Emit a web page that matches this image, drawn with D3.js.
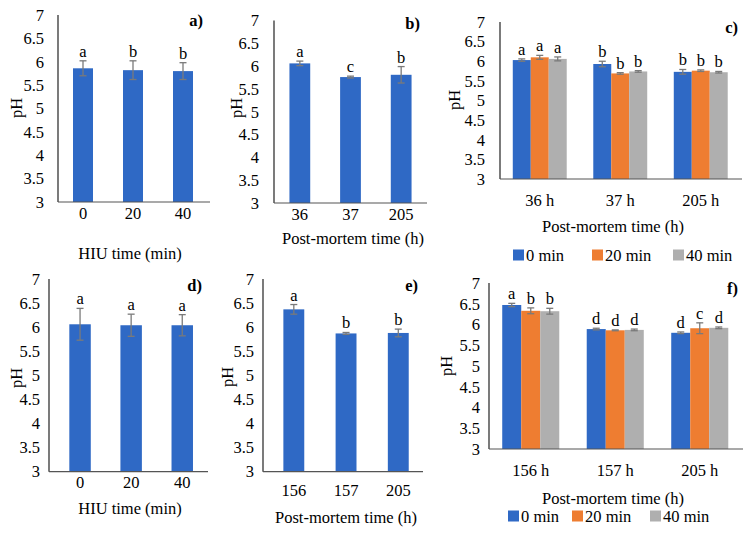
<!DOCTYPE html>
<html>
<head>
<meta charset="utf-8">
<script src="https://cdn.jsdelivr.net/npm/d3@7"></script>
<style>
  html, body { margin: 0; padding: 0; background: #fff; }
  svg { display: block; }
</style>
</head>
<body>
<svg id="chart" width="753" height="534" font-family="'Liberation Serif', 'Times New Roman', Times, 'DejaVu Serif', serif"></svg>
<script>
// ---------------- DATA ----------------
const yTicks = [3, 3.5, 4, 4.5, 5, 5.5, 6, 6.5, 7];
const seriesNames = ["0 min", "20 min", "40 min"];

// Panel a
const catsA = ["0", "20", "40"];
const valsA = [5.86, 5.82, 5.80];
const errsA = [0.16, 0.20, 0.18];
const lettersA = ["a", "b", "b"];

// Panel b
const catsB = ["36", "37", "205"];
const valsB = [6.06, 5.76, 5.81];
const errsB = [0.05, 0.02, 0.18];
const lettersB = ["a", "c", "b"];

// Panel c
const catsC = ["36 h", "37 h", "205 h"];
const valsC0 = [6.03, 5.93, 5.73];
const valsC20 = [6.10, 5.69, 5.76];
const valsC40 = [6.06, 5.74, 5.72];
const errsC0 = [0.03, 0.07, 0.06];
const errsC20 = [0.05, 0.02, 0.02];
const errsC40 = [0.05, 0.02, 0.02];
const lettersC0 = ["a", "b", "b"];
const lettersC20 = ["a", "b", "b"];
const lettersC40 = ["a", "b", "b"];

// Panel d
const catsD = ["0", "20", "40"];
const valsD = [6.06, 6.04, 6.04];
const errsD = [0.33, 0.23, 0.22];
const lettersD = ["a", "a", "a"];

// Panel e
const catsE = ["156", "157", "205"];
const valsE = [6.37, 5.87, 5.88];
const errsE = [0.10, 0.02, 0.08];
const lettersE = ["a", "b", "b"];

// Panel f
const catsF = ["156 h", "157 h", "205 h"];
const valsF0 = [6.47, 5.89, 5.80];
const valsF20 = [6.33, 5.86, 5.91];
const valsF40 = [6.32, 5.87, 5.92];
const errsF0 = [0.04, 0.02, 0.02];
const errsF20 = [0.07, 0.01, 0.13];
const errsF40 = [0.07, 0.02, 0.02];
const lettersF0 = ["a", "d", "d"];
const lettersF20 = ["b", "d", "c"];
const lettersF40 = ["b", "d", "d"];

// ---------------- STYLE ----------------
const colors = ["#2F69C5", "#EE7D31", "#AFAFAF"];
const errColor = "#7a7a7a";
const FS = 16.5;
const FONT = "'Liberation Serif', 'Times New Roman', Times, 'DejaVu Serif', serif";

const svg = d3.select("#chart");

function fmt(v) { return String(v); }

function txt(sel, size) {
  return sel.attr("font-family", FONT).attr("font-size", size).attr("fill", "#000");
}

function drawPanel(p) {
  const g = svg.append("g");
  const y = d3.scaleLinear().domain([3, 7]).range([p.yBot, p.yTop]);
  const x = d3.scaleBand().domain(p.cats).range(p.band).padding(0);
  const nS = p.series.length;
  const inner = d3.scaleBand().domain(d3.range(nS))
    .range([0, x.bandwidth() * p.groupFrac]).padding(0);
  const off = (x.bandwidth() - x.bandwidth() * p.groupFrac) / 2;

  // y tick labels
  txt(g.selectAll("text.yt").data(yTicks).join("text")
    .attr("class", "yt")
    .attr("x", p.yLabX).attr("y", d => y(d)).attr("dy", "0.35em")
    .attr("text-anchor", "end"), FS)
    .text(fmt);

  // bars
  p.series.forEach((s, si) => {
    const bx = c => x(c) + off + inner(si);
    const bw = inner.bandwidth();
    g.selectAll(null).data(p.cats).join("rect")
      .attr("x", c => bx(c)).attr("width", bw)
      .attr("y", (c, i) => y(s.vals[i]))
      .attr("height", (c, i) => y(3) - y(s.vals[i]))
      .attr("fill", s.color);
    const cx = c => bx(c) + bw / 2;
    const eg = g.selectAll(null).data(p.cats).join("g").attr("stroke", errColor).attr("stroke-width", 1.3);
    eg.append("line").attr("x1", cx).attr("x2", cx)
      .attr("y1", (c, i) => y(s.vals[i] - s.errs[i]))
      .attr("y2", (c, i) => y(s.vals[i] + s.errs[i]));
    eg.append("line").attr("x1", c => cx(c) - 3.5).attr("x2", c => cx(c) + 3.5)
      .attr("y1", (c, i) => y(s.vals[i] + s.errs[i]))
      .attr("y2", (c, i) => y(s.vals[i] + s.errs[i]));
    eg.append("line").attr("x1", c => cx(c) - 3.5).attr("x2", c => cx(c) + 3.5)
      .attr("y1", (c, i) => y(s.vals[i] - s.errs[i]))
      .attr("y2", (c, i) => y(s.vals[i] - s.errs[i]));
    txt(g.selectAll(null).data(p.cats).join("text")
      .attr("x", cx).attr("y", (c, i) => y(s.vals[i] + s.errs[i]) - 4)
      .attr("text-anchor", "middle"), 16.5)
      .text((c, i) => s.letters[i]);
  });

  // axes lines
  g.append("line").attr("x1", p.axX0).attr("x2", p.axX0)
    .attr("y1", p.yTop).attr("y2", p.yBot).attr("stroke", "#222").attr("stroke-width", 1.2);
  g.append("line").attr("x1", p.axX0).attr("x2", p.axX1)
    .attr("y1", p.yBot).attr("y2", p.yBot).attr("stroke", "#555").attr("stroke-width", 1.2);

  // x tick labels
  txt(g.selectAll("text.xt").data(p.cats).join("text")
    .attr("class", "xt")
    .attr("x", c => x(c) + x.bandwidth() / 2).attr("y", p.xTickY).attr("dy", "0.35em")
    .attr("text-anchor", "middle"), FS)
    .text(c => c);

  // x title
  txt(g.append("text").attr("x", p.xTitle[0]).attr("y", p.xTitle[1]).attr("dy", "0.35em")
    .attr("text-anchor", "middle"), FS).text(p.xTitleText);

  // y title
  txt(g.append("text").attr("transform", `translate(${p.yTitle[0]},${p.yTitle[1]}) rotate(-90)`)
    .attr("dy", "0.35em").attr("text-anchor", "middle"), FS).text("pH");

  // panel label
  txt(g.append("text").attr("x", p.label[0]).attr("y", p.label[1]).attr("dy", "0.35em")
    .attr("text-anchor", "end").attr("font-weight", "bold"), 16.5)
    .text(p.labelText);

  // legend
  if (p.legend) {
    p.series.forEach((s, si) => {
      const lx = p.legend[si];
      g.append("rect").attr("x", lx).attr("y", p.legendY - 5.5).attr("width", 11).attr("height", 11).attr("fill", s.color);
      txt(g.append("text").attr("x", lx + 13).attr("y", p.legendY).attr("dy", "0.35em"), FS)
        .text(seriesNames[si]);
    });
  }
}

drawPanel({
  cats: catsA, series: [{vals: valsA, errs: errsA, letters: lettersA, color: colors[0]}],
  groupFrac: 0.4, band: [58, 208], axX0: 58, axX1: 210, yTop: 15, yBot: 202,
  yLabX: 44, xTickY: 213, xTitle: [130, 253], xTitleText: "HIU time (min)",
  yTitle: [16, 108], label: [203, 20], labelText: "a)"
});
drawPanel({
  cats: catsB, series: [{vals: valsB, errs: errsB, letters: lettersB, color: colors[0]}],
  groupFrac: 0.41, band: [274.5, 426.5], axX0: 274, axX1: 427, yTop: 20.5, yBot: 203,
  yLabX: 259, xTickY: 214, xTitle: [353, 238], xTitleText: "Post-mortem time (h)",
  yTitle: [236, 108], label: [420, 23], labelText: "b)"
});
drawPanel({
  cats: catsC, series: [
    {vals: valsC0, errs: errsC0, letters: lettersC0, color: colors[0]},
    {vals: valsC20, errs: errsC20, letters: lettersC20, color: colors[1]},
    {vals: valsC40, errs: errsC40, letters: lettersC40, color: colors[2]}],
  groupFrac: 0.67, band: [499.5, 741], axX0: 500, axX1: 742, yTop: 22, yBot: 179,
  yLabX: 485, xTickY: 200, xTitle: [613, 226], xTitleText: "Post-mortem time (h)",
  yTitle: [454, 100], label: [738, 27], labelText: "c)",
  legend: [513, 592, 673], legendY: 255
});
drawPanel({
  cats: catsD, series: [{vals: valsD, errs: errsD, letters: lettersD, color: colors[0]}],
  groupFrac: 0.42, band: [54.5, 207.8], axX0: 49, axX1: 208, yTop: 279, yBot: 471.7,
  yLabX: 40, xTickY: 482, xTitle: [130, 508], xTitleText: "HIU time (min)",
  yTitle: [16, 378], label: [202, 285], labelText: "d)"
});
drawPanel({
  cats: catsE, series: [{vals: valsE, errs: errsE, letters: lettersE, color: colors[0]}],
  groupFrac: 0.40, band: [267.7, 424.4], axX0: 263, axX1: 423, yTop: 279, yBot: 471.7,
  yLabX: 254, xTickY: 490, xTitle: [346, 517], xTitleText: "Post-mortem time (h)",
  yTitle: [227, 377], label: [418, 285], labelText: "e)"
});
drawPanel({
  cats: catsF, series: [
    {vals: valsF0, errs: errsF0, letters: lettersF0, color: colors[0]},
    {vals: valsF20, errs: errsF20, letters: lettersF20, color: colors[1]},
    {vals: valsF40, errs: errsF40, letters: lettersF40, color: colors[2]}],
  groupFrac: 0.675, band: [488.5, 742], axX0: 489, axX1: 743, yTop: 283, yBot: 449,
  yLabX: 480, xTickY: 470, xTitle: [613, 498], xTitleText: "Post-mortem time (h)",
  yTitle: [446, 366], label: [738, 288], labelText: "f)",
  legend: [508, 572, 650], legendY: 516
});
</script>
</body>
</html>
